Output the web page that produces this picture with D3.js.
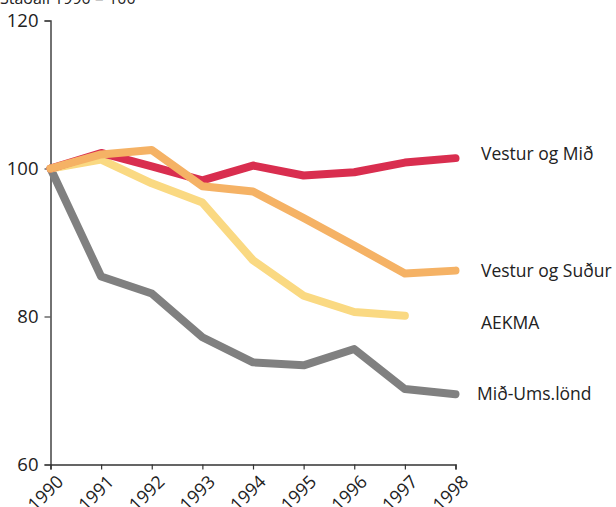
<!DOCTYPE html>
<html>
<head>
<meta charset="utf-8">
<script src="https://cdn.jsdelivr.net/npm/d3@7"></script>
<style>
  body { margin: 0; background: #fff; }
  svg text { font-family: "Open Sans", "Noto Sans", sans-serif; fill: #222; }
</style>
</head>
<body>
<svg id="chart" width="616" height="507"></svg>
<script>
// data
var years = [1990, 1991, 1992, 1993, 1994, 1995, 1996, 1997, 1998];
var yTicks = [60, 80, 100, 120];
var vesturMid = [100, 102.1, 100.3, 98.4, 100.4, 99.05, 99.5, 100.8, 101.4];
var vesturSudur = [100, 101.9, 102.5, 97.6, 96.9, 93.3, 89.6, 85.8, 86.2];
var aekma = [100, 101.2, 98.0, 95.4, 87.6, 82.8, 80.6, 80.1];
var midUms = [100, 85.4, 83.1, 77.2, 73.8, 73.4, 75.6, 70.2, 69.5];
var seriesNames = ["Mið-Ums.lönd", "AEKMA", "Vestur og Mið", "Vestur og Suður"];
var title = "Staðall 1990 = 100";

// drawing order: gray at bottom, orange on top
var series = [
  { name: seriesNames[0], values: midUms, color: "#808080", labelX: 477 },
  { name: seriesNames[1], values: aekma, color: "#fad982", labelX: 481 },
  { name: seriesNames[2], values: vesturMid, color: "#d92e4f", labelX: 481 },
  { name: seriesNames[3], values: vesturSudur, color: "#f5b265", labelX: 481 }
];
// label vertical positions (value units) where the picture puts them
var labelValues = { "Vestur og Mið": 102.0, "Vestur og Suður": 86.2, "AEKMA": 79.1, "Mið-Ums.lönd": 69.5 };

var svg = d3.select("#chart");

var x = d3.scaleLinear().domain([1990, 1998]).range([50.5, 455.5]);
var y = d3.scaleLinear().domain([60, 120]).range([464.5, 20.5]);

// title, clipped at the top like the source
svg.append("text")
  .attr("x", 0)
  .attr("y", 4)
  .style("font-size", "16px")
  .text(title);

// y axis
var yAxis = d3.axisLeft(y).tickValues(yTicks).tickSize(6).tickPadding(6).tickFormat(d3.format("d"));
var gy = svg.append("g").attr("transform", "translate(50.5,0)").call(yAxis);
gy.select(".domain").attr("stroke", "#444").attr("stroke-width", 1.5);
gy.selectAll(".tick line").attr("stroke", "#444").attr("stroke-width", 1.2);
gy.selectAll(".tick text").style("font-size", "18.5px").attr("fill", "#222");

// x axis
var xAxis = d3.axisBottom(x).tickValues(years).tickSize(5).tickFormat(d3.format("d"));
var gx = svg.append("g").attr("transform", "translate(0,464.5)").call(xAxis);
gx.select(".domain").attr("stroke", "#333").attr("stroke-width", 1.5);
gx.selectAll(".tick line").attr("stroke", "#333").attr("stroke-width", 1.2);
gx.selectAll(".tick text")
  .style("font-size", "18px")
  .attr("fill", "#222")
  .attr("text-anchor", "end")
  .attr("x", 0)
  .attr("y", 0)
  .attr("dy", "0.35em")
  .attr("transform", "translate(9,14) rotate(-45)");

var line = d3.line()
  .x(function(d, i) { return x(years[i]); })
  .y(function(d) { return y(d); });

svg.append("g").selectAll("path")
  .data(series)
  .enter()
  .append("path")
  .attr("d", function(d) { return line(d.values); })
  .attr("fill", "none")
  .attr("stroke", function(d) { return d.color; })
  .attr("stroke-width", 8)
  .attr("stroke-linejoin", "round")
  .attr("stroke-linecap", "round");

// series labels on the right
svg.append("g").selectAll("text")
  .data(series)
  .enter()
  .append("text")
  .attr("x", function(d) { return d.labelX; })
  .attr("y", function(d) { return y(labelValues[d.name]); })
  .attr("dy", "0.35em")
  .style("font-size", "17.5px")
  .text(function(d) { return d.name; });
</script>
</body>
</html>
